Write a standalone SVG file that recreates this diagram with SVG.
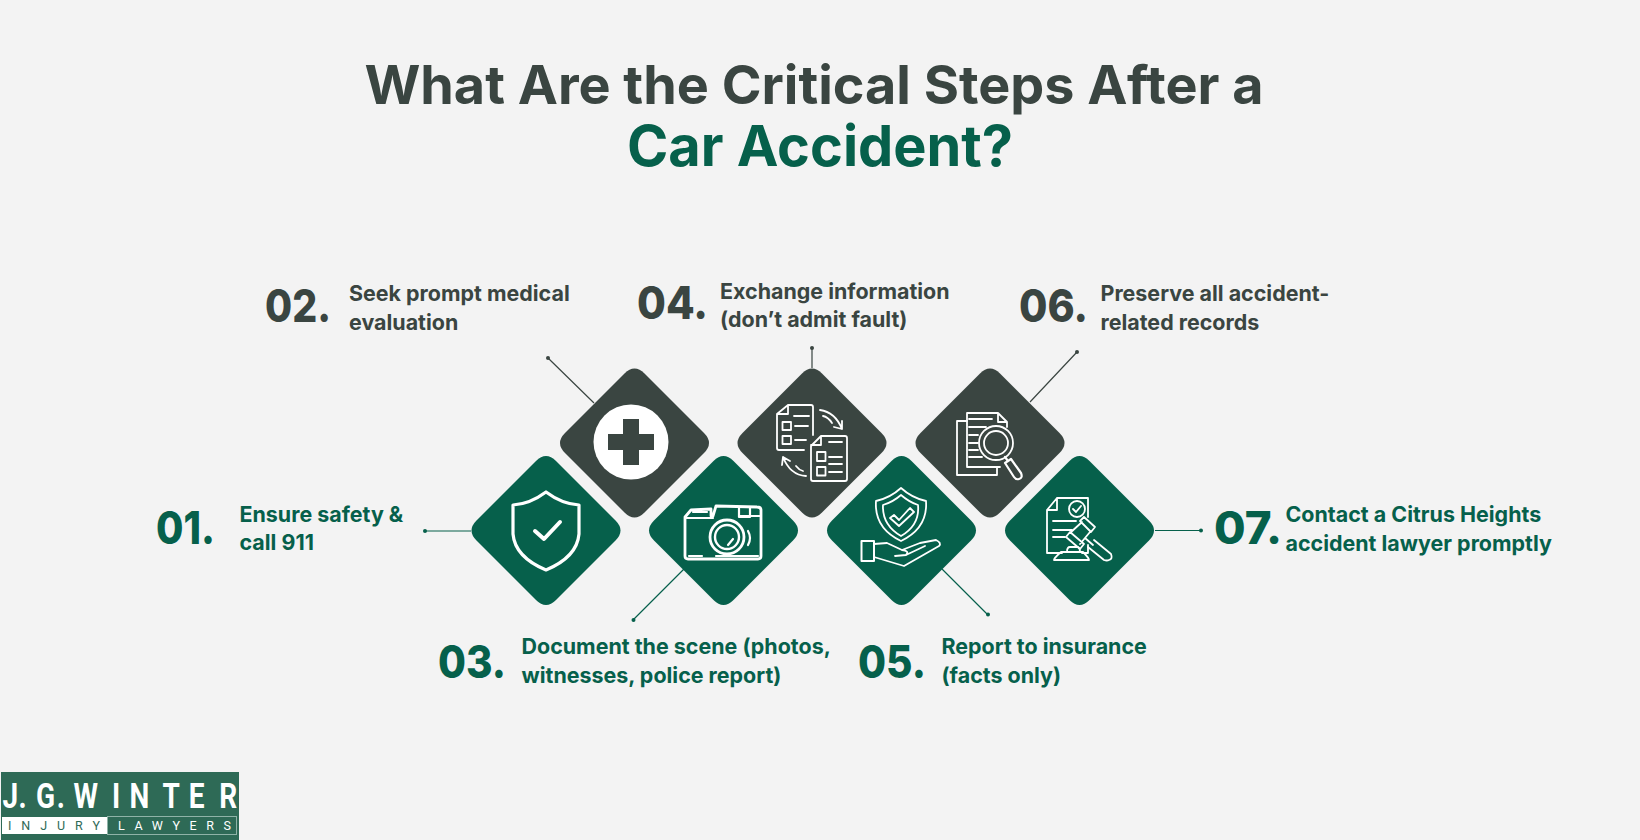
<svg xmlns="http://www.w3.org/2000/svg" width="1640" height="840" viewBox="0 0 1640 840">
<style>
.t{font-family:Inter,"Liberation Sans",sans-serif;font-weight:700;font-size:21.45px}
.n{font-family:Inter,"Liberation Sans",sans-serif;font-weight:800;font-size:45px}
.h{font-family:Inter,"Liberation Sans",sans-serif;font-weight:700;text-anchor:middle}
.g{fill:#06604b}.d{fill:#3a4541}
.i{fill:none;stroke:#fff;stroke-width:2.2;stroke-linejoin:round;stroke-linecap:round}
.c{stroke-width:1.2;fill:none}
</style>
<defs>
<path id="dia" d="M-10 -69.500Q0 -79.500 10 -69.500L69.500 -10Q79.500 0 69.500 10L10 69.500Q0 79.500 -10 69.500L-69.500 10Q-79.500 0 -69.500 -10Z"/>
</defs>
<rect width="1640" height="840" fill="#f3f3f3"/>
<g id="title">
<text class="h" x="814" y="104" font-size="53.9" fill="#3a4541">What Are the Critical Steps After a</text>
<text class="h" x="820" y="166" font-size="55.9" fill="#06604b">Car Accident?</text>
</g>
<g id="connectors">
<path class="c" stroke="#06604b" d="M424 531H471M633 620L684 569M988 615L942 569M1155 530.500H1201"/>
<path class="c" stroke="#3a4541" d="M548 358L594 403M812 348V368M1077 352L1030 402"/>
<g class="g"><circle cx="425" cy="531" r="2"/><circle cx="633.500" cy="620" r="2"/><circle cx="988" cy="614.500" r="2"/><circle cx="1201" cy="530.500" r="2"/></g>
<g class="d"><circle cx="548" cy="358" r="2"/><circle cx="812" cy="348" r="2"/><circle cx="1077" cy="352" r="2"/></g>
</g>
<g id="step-01">
<use href="#dia" class="g" x="546" y="530.500"/>
<path class="i" style="stroke-width:3.2" d="M546 492Q530 504 513 505V534Q515 557 546 570Q577 557 579 534V505Q562 504 546 492Z"/>
<path class="i" style="stroke-width:4" d="M535 531L544 539L560 522"/>
<text class="n g" x="156" y="544" textLength="59" lengthAdjust="spacingAndGlyphs">01.</text>
<text class="t g" x="239.500" y="522">Ensure safety &amp;</text><text class="t g" x="239.500" y="550">call 911</text>
</g>
<g id="step-02">
<use href="#dia" class="d" x="634.500" y="443"/>
<circle cx="631" cy="442" r="37.500" fill="#fff"/>
<path class="d" d="M623 419H639V434H654V450H639V465H623V450H608V434H623Z"/>
<text class="n d" x="265" y="322" textLength="66" lengthAdjust="spacingAndGlyphs">02.</text>
<text class="t d" x="349" y="301">Seek prompt medical</text><text class="t d" x="349" y="330">evaluation</text>
</g>
<g id="step-03">
<use href="#dia" class="g" x="723.500" y="530.500"/>
<g class="i">
<path style="stroke-width:2.800" d="M685 518V556Q685 559 688 559H758Q761 559 761 556V510Q761 507 757 507L716 506L713 516H711V509L691 510L685 517Z"/>
<path d="M686 518H713M740 516H760M689 556H702M716 556H758M693 512H707"/>
<path d="M739 507V517H750V507"/>
<circle cx="727" cy="537" r="17" style="stroke-width:2.800"/><circle cx="727" cy="537" r="12" style="stroke-width:2.400"/>
<path d="M728 545L733 539M748 531Q752 538 748 545"/>
</g>
<text class="n g" x="438" y="678" textLength="68" lengthAdjust="spacingAndGlyphs">03.</text>
<text class="t g" x="521.500" y="654">Document the scene (photos,</text><text class="t g" x="521.500" y="683">witnesses, police report)</text>
</g>
<g id="step-04">
<use href="#dia" class="d" x="812" y="443"/>
<g class="i" style="stroke-width:1.800">
<path d="M813 435V407Q813 405 811 405H788L777 414V448Q777 450 779 450H804M788 405V414H777"/>
<path d="M794 416H809M795 426H808M795 440H806"/>
<rect x="782.500" y="422" width="8.500" height="8"/><rect x="782.500" y="436" width="8.500" height="8"/>
<path d="M821 436H845Q847 436 847 438V479Q847 481 845 481H813Q811 481 811 479V446L821 436ZM821 436V445H811"/>
<path d="M829 442H842M829 457H842M829 472H842M829 464H842"/>
<rect x="817" y="452" width="8.500" height="9"/><rect x="817" y="467" width="8.500" height="8.500"/>
<path d="M820 410Q835 412 842 429M842 429V421M842 429L834 427M823 416Q828 417 832 423"/>
<path d="M806 476Q790 475 783 457M783 457L782 465M783 457L790 461M796 466Q799 470 803 471"/>
</g>
<text class="n d" x="637" y="319" textLength="71" lengthAdjust="spacingAndGlyphs">04.</text>
<text class="t d" x="720" y="299">Exchange information</text><text class="t d" x="720" y="327">(don’t admit fault)</text>
</g>
<g id="step-05">
<use href="#dia" class="g" x="901.500" y="530.500"/>
<g class="i" style="stroke-width:1.800">
<path d="M901 488Q890 498 876 501Q874 528 901 541Q928 528 926 501Q912 498 901 488Z"/>
<path d="M901 495Q893 502 883 505Q882 525 901 536Q920 525 918 505Q909 502 901 495Z"/>
<path d="M894 515L899 520L910 508L914 512L899 526L890 518Z"/>
<rect x="861.500" y="541" width="12.500" height="20" style="stroke-width:2"/>
<path d="M874 544L887 543L902 550L920 543L936 540Q942 543 939 546L904 566L874 557M902 550Q910 551 906 555L895 556M906 555L925 546"/>
</g>
<text class="n g" x="858" y="678" textLength="68" lengthAdjust="spacingAndGlyphs">05.</text>
<text class="t g" x="941.500" y="654">Report to insurance</text><text class="t g" x="941.500" y="683">(facts only)</text>
</g>
<g id="step-06">
<use href="#dia" class="d" x="990" y="443"/>
<g class="i" style="stroke-width:1.800">
<path d="M967 421H957V475H997V468"/>
<path d="M1007 427V422L998 413H967V467H1000M998 413V422H1007"/>
<path d="M969 419H992M969 427H986M969 435H978M969 443H978M969 450H978M969 457H982"/>
<circle cx="996" cy="443" r="17"/><circle cx="996" cy="443" r="12"/>
<path d="M1005 457L1008 461M1005 463L1011 459L1021 473Q1023 478 1019 479Q1016 480 1014 477Z" style="stroke-width:2.200"/>
</g>
<text class="n d" x="1019" y="322" textLength="69" lengthAdjust="spacingAndGlyphs">06.</text>
<text class="t d" x="1100.500" y="301">Preserve all accident-</text><text class="t d" x="1100.500" y="330">related records</text>
</g>
<g id="step-07">
<use href="#dia" class="g" x="1079.500" y="530.500"/>
<g class="i" style="stroke-width:1.800">
<path d="M1062 553H1047V510L1057 498H1088V517M1047 510H1057V498M1088 545V553H1082"/>
<circle cx="1077" cy="509" r="8"/>
<path d="M1073 509L1076 512L1081 506M1053 521H1076M1053 530H1072M1053 537H1065"/>
<path d="M1080 521L1084 517L1095 527L1091 532ZM1066 537L1070 532L1084 544L1080 549ZM1082 522L1070 533M1090 532L1080 544M1085 538L1093 545M1094 540L1111 554Q1113 559 1109 560Q1107 561 1104 560L1088 547"/>
<path d="M1054 560Q1054 558 1061 552H1083Q1089 558 1089 560ZM1067 552Q1067 547 1070 547H1078Q1080 548 1080 552"/>
</g>
<text class="n g" x="1214" y="544" textLength="68" lengthAdjust="spacingAndGlyphs">07.</text>
<text class="t g" x="1285.500" y="522">Contact a Citrus Heights</text><text class="t g" x="1285.500" y="551">accident lawyer promptly</text>
</g>
<g id="logo">
<rect x="1" y="772" width="238" height="68" fill="#2e6a56"/>
<rect x="2" y="817" width="105" height="17" fill="#fff"/>
<rect x="107.500" y="816.500" width="129" height="18" fill="none" stroke="#8fb3a7"/>
<text y="808" transform="scale(.8 1)" x="3 23 40 45 71 85 92 140 162 203 236 274" font-family="Roboto,sans-serif" font-weight="700" font-size="35" fill="#fff">J. G. WINTER</text>
<text x="8" y="830" font-family="Roboto,sans-serif" font-size="12.500" fill="#2e6a56" textLength="92" lengthAdjust="spacing">INJURY</text>
<text x="118" y="830" font-family="Roboto,sans-serif" font-size="12.500" fill="#fff" textLength="113" lengthAdjust="spacing">LAWYERS</text>
</g>
</svg>
